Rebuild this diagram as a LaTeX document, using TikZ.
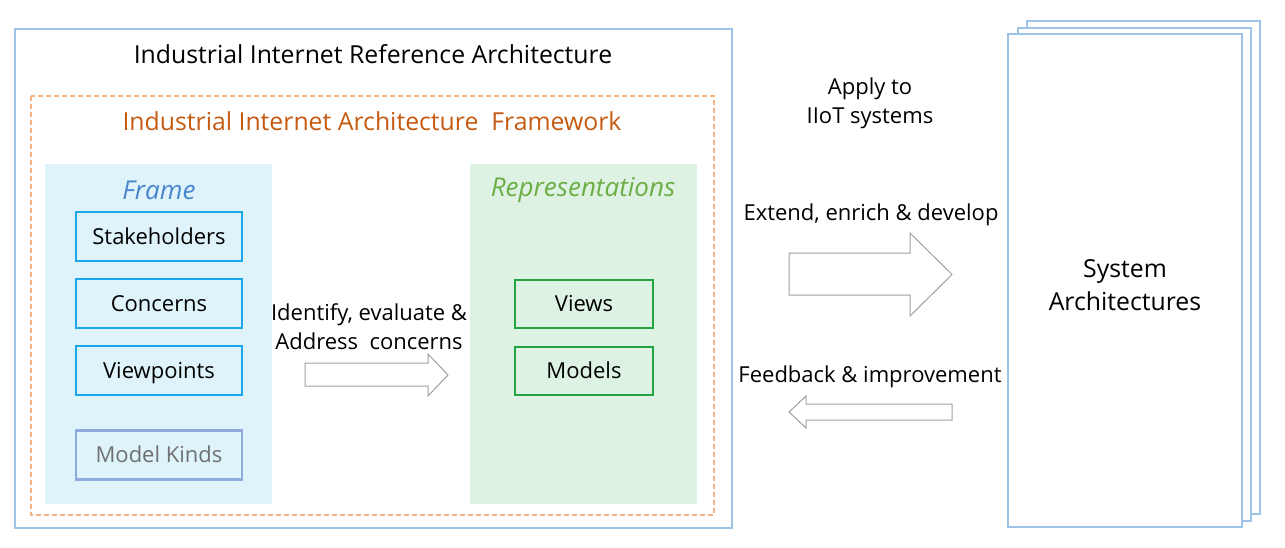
\documentclass[tikz,border=0pt]{standalone}
\usepackage{fontspec}
\setmainfont{Open Sans}
\definecolor{outerblue}{HTML}{9DC3E6}
\definecolor{dashorange}{HTML}{F4B183}
\definecolor{txtorange}{HTML}{C55A11}
\definecolor{framefill}{HTML}{DEF3FA}
\definecolor{frameline}{HTML}{1CA6EC}
\definecolor{frametxt}{HTML}{4A86CF}
\definecolor{mkline}{HTML}{8FAADC}
\definecolor{mktxt}{HTML}{707070}
\definecolor{repfill}{HTML}{DEF2E4}
\definecolor{repline}{HTML}{22A340}
\definecolor{reptxt}{HTML}{6DAE44}
\definecolor{arrowgray}{HTML}{A0A0A0}
\begin{document}
\begin{tikzpicture}[x=1pt,y=-1pt,
  basefont/.style={font=\fontsize{22}{29}\selectfont},
  bigfont/.style={font=\fontsize{24.8}{33}\selectfont},
  fbox/.style={draw=frameline, line width=2.4pt, fill=framefill, minimum width=166pt, minimum height=49pt, inner sep=0pt, text height=15.7pt, text depth=0pt, basefont},
  gbox/.style={draw=repline, line width=2.4pt, fill=repfill, minimum width=138pt, minimum height=48pt, inner sep=0pt, text height=15.7pt, text depth=0pt, basefont},
  lbl/.style={basefont, align=center, inner sep=0pt, yshift=-2pt},
  hollow/.style={draw=arrowgray, line width=1pt, fill=white},
  page/.style={draw=outerblue, line width=1.6pt, fill=white}
]
\useasboundingbox (0,0) rectangle (1285,547);
% outer box
\draw[draw=outerblue, line width=1.4pt] (15,29) rectangle (732,528);
\node[lbl, bigfont] (title) at (373,52) {Industrial Internet Reference Architecture};
% dashed framework box
\draw[draw=dashorange, line width=1.2pt, dash pattern=on 5pt off 3pt] (31,96) rectangle (714,515);
\node[lbl, bigfont, text=txtorange] (fw) at (372,119) {Industrial Internet Architecture\ \ Framework};
% frame panel
\fill[framefill] (45,164) rectangle (272,504);
\node[lbl, font=\fontsize{26}{30}\selectfont\itshape, text=frametxt] (frame) at (159,188) {Frame};
\node[fbox] (sh) at (159,236.5) {Stakeholders};
\node[fbox] (co) at (159,303.5) {Concerns};
\node[fbox] (vp) at (159,370.5) {Viewpoints};
\node[fbox, draw=mkline, text=mktxt] (mk) at (159,455) {Model Kinds};
% representations panel
\fill[repfill] (470,164) rectangle (697,504);
\node[lbl, font=\fontsize{26}{30}\selectfont\itshape, text=reptxt] (rep) at (583,188) {Representations};
\node[gbox] (vi) at (584,304) {Views};
\node[gbox] (mo) at (584,371) {Models};
% identify arrow
\node[lbl] (ident) at (369,324.5) {Identify, evaluate \&\\Address\ \ concerns};
\draw[hollow] (305,363) -- (428,363) -- (428,354) -- (448,375) -- (428,396) -- (428,386) -- (305,386) -- cycle;
% right page stack
\draw[page] (1027,21) rectangle (1260,514);
\draw[page] (1018,28) rectangle (1251,521);
\draw[page] (1008,34) rectangle (1242,527);
\node[lbl, bigfont] (sys) at (1125,283.5) {System\\Architectures};
% middle labels and arrows
\node[lbl] (apply) at (870,101.5) {Apply to\\IIoT systems};
\node[lbl] (ext) at (871,213) {Extend, enrich \& develop};
\draw[hollow] (789,253) -- (910,253) -- (910,233) -- (952,274.5) -- (910,316) -- (910,295) -- (789,295) -- cycle;
\node[lbl] (fb) at (870,375) {Feedback \& improvement};
\draw[hollow] (952,404) -- (806,404) -- (806,396) -- (789,412) -- (806,428) -- (806,420) -- (952,420) -- cycle;
\end{tikzpicture}
\end{document}
